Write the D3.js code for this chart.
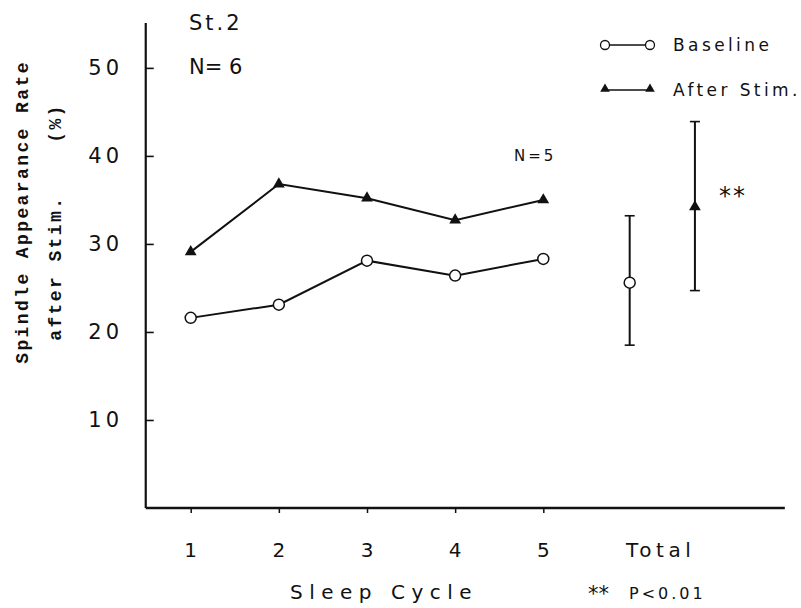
<!DOCTYPE html>
<html>
<head>
<meta charset="utf-8">
<script src="https://cdn.jsdelivr.net/npm/d3@7"></script>
<style>
  body { margin: 0; background: #fff; }
  svg { display: block; }
  text { fill: #111; }
</style>
</head>
<body>
<svg id="chart" width="801" height="608"></svg>
<script>
// ---- data ----
const cycles = [1, 2, 3, 4, 5];
const cycleLabels = ["1", "2", "3", "4", "5"];
const baseline = [21.6, 23.1, 28.1, 26.4, 28.3];
const afterStim = [29.1, 36.8, 35.2, 32.7, 35.0];
const totalBaseline = { mean: 25.6, lo: 18.5, hi: 33.2 };
const totalAfter = { mean: 34.2, lo: 24.7, hi: 43.9 };
const yTicks = [10, 20, 30, 40, 50];
const yTickLabels = ["10", "20", "30", "40", "50"];

const svg = d3.select("#chart");
const ink = "#111";
const sans = "'DejaVu Sans', sans-serif";
const mono = "'Liberation Mono', 'DejaVu Sans Mono', monospace";

const x = d3.scaleLinear().domain([1, 5]).range([190.7, 543.3]);
const y = d3.scaleLinear().domain([0, 55.1]).range([508, 23]);

const xTotalBase = 5.98, xTotalAfter = 6.72;

// axes lines
svg.append("line").attr("x1", x(0.49)).attr("x2", x(0.49))
  .attr("y1", y(55.1)).attr("y2", y(0))
  .attr("stroke", ink).attr("stroke-width", 2.2);
svg.append("line").attr("x1", x(0.49)).attr("x2", x(7.74))
  .attr("y1", y(0)).attr("y2", y(0))
  .attr("stroke", ink).attr("stroke-width", 2.6);

// y ticks (inward)
const yAxis = d3.axisRight(y).tickValues(yTicks).tickSize(8).tickFormat("");
const gy = svg.append("g").attr("transform", `translate(${x(0.49)},0)`).call(yAxis);
gy.select(".domain").remove();
gy.selectAll(".tick line").attr("stroke", ink).attr("stroke-width", 1.6);
svg.selectAll(".ylab").data(yTicks).enter().append("text")
  .attr("class", "ylab")
  .attr("x", 123).attr("y", d => y(d) + 7)
  .attr("text-anchor", "end")
  .style("font-family", sans)
  .style("font-size", "21px").style("letter-spacing", "4px")
  .text((d, i) => yTickLabels[i]);

// x ticks (down)
const xAxis = d3.axisBottom(x).tickValues(cycles).tickSize(5).tickFormat("");
const gx = svg.append("g").attr("transform", `translate(0,${y(0)})`).call(xAxis);
gx.select(".domain").remove();
gx.selectAll(".tick line").attr("stroke", ink).attr("stroke-width", 1.5);
svg.selectAll(".xlab").data(cycles).enter().append("text")
  .attr("class", "xlab")
  .attr("x", d => x(d)).attr("y", 557)
  .attr("text-anchor", "middle")
  .style("font-family", sans)
  .style("font-size", "20px")
  .text((d, i) => cycleLabels[i]);
svg.append("text").attr("x", 626).attr("y", 557)
  .style("font-family", sans)
  .style("font-size", "20px").style("letter-spacing", "4.5px")
  .text("Total");

// axis titles
svg.append("text").attr("x", 290).attr("y", 599)
  .style("font-family", sans)
  .style("font-size", "20px").style("letter-spacing", "6.5px")
  .text("Sleep Cycle");
svg.append("text").attr("x", 588).attr("y", 601)
  .style("font-family", sans)
  .style("font-size", "21px")
  .text("**");
svg.append("text").attr("x", 629).attr("y", 599)
  .style("font-family", sans)
  .style("font-size", "16px").style("letter-spacing", "3px")
  .text("P<0.01");

svg.append("text")
  .attr("transform", "translate(28,212) rotate(-90)")
  .attr("text-anchor", "middle")
  .style("font-family", mono)
  .style("font-weight", "bold").style("font-size", "18px").style("letter-spacing", "2.4px")
  .text("Spindle Appearance Rate");
svg.append("text")
  .attr("transform", "translate(61,222) rotate(-90)")
  .attr("text-anchor", "middle")
  .style("font-family", mono)
  .style("font-weight", "bold").style("font-size", "18px").style("letter-spacing", "2.4px")
  .attr("xml:space", "preserve")
  .text("after Stim.    (%)");

// annotations
svg.append("text").attr("x", 189).attr("y", 30)
  .style("font-family", sans).style("font-size", "21px").style("letter-spacing", "3px")
  .text("St.2");
svg.append("text").attr("x", 189).attr("y", 74)
  .style("font-family", sans).style("font-size", "21px")
  .text("N= 6");
svg.append("text").attr("x", 514).attr("y", 161)
  .style("font-family", sans).style("font-size", "15px").style("letter-spacing", "3px")
  .text("N=5");
svg.append("text").attr("x", 719).attr("y", 204)
  .style("font-family", sans).style("font-size", "24px").style("letter-spacing", "2px")
  .text("**");

// lines
const line = d3.line().x((d, i) => x(cycles[i])).y(d => y(d));
svg.append("path").datum(afterStim).attr("d", line)
  .attr("fill", "none").attr("stroke", ink).attr("stroke-width", 2);
svg.append("path").datum(baseline).attr("d", line)
  .attr("fill", "none").attr("stroke", ink).attr("stroke-width", 2);

// total error bars
function errorBar(xv, s) {
  const cx = x(xv);
  svg.append("line").attr("x1", cx).attr("x2", cx).attr("y1", y(s.lo)).attr("y2", y(s.hi))
    .attr("stroke", ink).attr("stroke-width", 2);
  [s.lo, s.hi].forEach(v => {
    svg.append("line").attr("x1", cx - 5).attr("x2", cx + 5).attr("y1", y(v)).attr("y2", y(v))
      .attr("stroke", ink).attr("stroke-width", 1.6);
  });
}
errorBar(xTotalBase, totalBaseline);
errorBar(xTotalAfter, totalAfter);

// markers
const tri = d3.symbol().type(d3.symbolTriangle).size(60);
svg.selectAll(".tri").data(afterStim).enter().append("path")
  .attr("d", tri).attr("transform", (d, i) => `translate(${x(cycles[i])},${y(d)})`)
  .attr("fill", ink);
svg.append("path").attr("d", tri)
  .attr("transform", `translate(${x(xTotalAfter)},${y(totalAfter.mean)})`).attr("fill", ink);

svg.selectAll(".circ").data(baseline).enter().append("circle")
  .attr("cx", (d, i) => x(cycles[i])).attr("cy", d => y(d)).attr("r", 5.5)
  .attr("fill", "#fff").attr("stroke", ink).attr("stroke-width", 1.5);
svg.append("circle").attr("cx", x(xTotalBase)).attr("cy", y(totalBaseline.mean)).attr("r", 5.5)
  .attr("fill", "#fff").attr("stroke", ink).attr("stroke-width", 1.5);

// legend
const lg = svg.append("g");
lg.append("line").attr("x1", 605).attr("x2", 650).attr("y1", 45).attr("y2", 45)
  .attr("stroke", ink).attr("stroke-width", 1.3);
[605, 650].forEach(cx => lg.append("circle").attr("cx", cx).attr("cy", 45).attr("r", 4.5)
  .attr("fill", "#fff").attr("stroke", ink).attr("stroke-width", 1.3));
lg.append("text").attr("x", 673).attr("y", 51)
  .style("font-family", sans).style("font-size", "17px").style("letter-spacing", "3.4px")
  .text("Baseline");
lg.append("line").attr("x1", 605).attr("x2", 650).attr("y1", 90).attr("y2", 90)
  .attr("stroke", ink).attr("stroke-width", 1.3);
[605, 650].forEach(cx => lg.append("path").attr("d", d3.symbol().type(d3.symbolTriangle).size(40))
  .attr("transform", `translate(${cx},89)`).attr("fill", ink));
lg.append("text").attr("x", 673).attr("y", 96)
  .style("font-family", sans).style("font-size", "17px").style("letter-spacing", "3.4px")
  .text("After Stim.");
</script>
</body>
</html>
